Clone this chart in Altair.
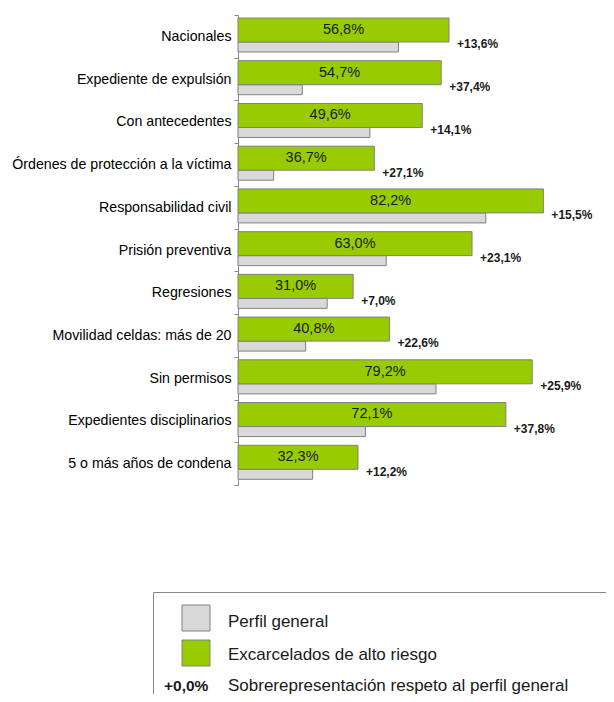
import altair as alt
import pandas as pd

categories = [
    "Nacionales",
    "Expediente de expulsión",
    "Con antecedentes",
    "Órdenes de protección a la víctima",
    "Responsabilidad civil",
    "Prisión preventiva",
    "Regresiones",
    "Movilidad celdas: más de 20",
    "Sin permisos",
    "Expedientes disciplinarios",
    "5 o más años de condena",
]
alto_riesgo = [56.8, 54.7, 49.6, 36.7, 82.2, 63.0, 31.0, 40.8, 79.2, 72.1, 32.3]
perfil_general = [43.2, 17.3, 35.5, 9.6, 66.7, 39.9, 24.0, 18.2, 53.3, 34.3, 20.1]
sobrerep = [13.6, 37.4, 14.1, 27.1, 15.5, 23.1, 7.0, 22.6, 25.9, 37.8, 12.2]

legend_labels = ["Perfil general", "Excarcelados de alto riesgo",
                 "Sobrerepresentación respeto al perfil general"]
legend_sample = "+0,0%"

FONT = "Liberation Sans"
GREEN = "#99cc00"
GRAY = "#d9d9d9"
EDGE = "#808080"


def fmt(v):
    return f"{v:.1f}".replace(".", ",") + "%"


df = pd.DataFrame({
    "cat": categories,
    "alto": alto_riesgo,
    "general": perfil_general,
    "sobre": sobrerep,
    "lab_alto": [fmt(v) for v in alto_riesgo],
    "lab_sobre": ["+" + fmt(v) for v in sobrerep],
})

xscale = alt.Scale(domain=[0, 100], range=[0, 371.5])
y_enc = alt.Y(
    "cat:N",
    sort=categories,
    scale=alt.Scale(domain=categories, range=[0, 470], paddingInner=0, paddingOuter=0),
    axis=alt.Axis(
        title=None, tickBand="extent", tickSize=4, tickColor="#888888",
        domainColor="#888888", labelFont=FONT, labelFontSize=14.2,
        labelColor="#000000", labelPadding=3, labelLimit=400, grid=False,
    ),
)

base = alt.Chart(df)

gray_bars = base.mark_bar(size=10, yOffset=10.64, color=GRAY, stroke=EDGE, strokeWidth=1).encode(
    x=alt.X("general:Q", scale=xscale, axis=None), y=y_enc)
green_bars = base.mark_bar(size=24, yOffset=-6.36, color=GREEN, stroke=EDGE, strokeWidth=1).encode(
    x=alt.X("alto:Q", scale=xscale, axis=None), y=y_enc)
inner_text = base.transform_calculate(mid="datum.alto / 2").mark_text(
    font=FONT, fontSize=14.5, color="#1a1a1a", align="center", baseline="middle", yOffset=-6.5
).encode(x=alt.X("mid:Q", scale=xscale, axis=None), y=y_enc, text="lab_alto:N")
sobre_text = base.mark_text(
    font=FONT, fontSize=12, fontWeight="bold", color="#1a1a1a", align="left",
    baseline="middle", dx=8, yOffset=8
).encode(x=alt.X("alto:Q", scale=xscale, axis=None), y=y_enc, text="lab_sobre:N")

one = pd.DataFrame({"k": [0]})
deco = alt.Chart(one)

box_top = deco.mark_rule(color="#888888", strokeWidth=1).encode(
    x=alt.value(-84.5), x2=alt.value(368), y=alt.value(577.5))
box_left = deco.mark_rule(color="#888888", strokeWidth=1).encode(
    x=alt.value(-84.5), y=alt.value(577.5), y2=alt.value(679))
sq_gray = deco.mark_rect(color=GRAY, stroke=EDGE, strokeWidth=1).encode(
    x=alt.value(-56), x2=alt.value(-28), y=alt.value(590), y2=alt.value(616))
sq_green = deco.mark_rect(color=GREEN, stroke=EDGE, strokeWidth=1).encode(
    x=alt.value(-56), x2=alt.value(-28), y=alt.value(625), y2=alt.value(651))
t1 = deco.mark_text(font=FONT, fontSize=17, color="#1a1a1a", align="left", baseline="middle",
                    text=legend_labels[0]).encode(x=alt.value(-10), y=alt.value(606.5))
t2 = deco.mark_text(font=FONT, fontSize=17, color="#1a1a1a", align="left", baseline="middle",
                    text=legend_labels[1]).encode(x=alt.value(-10), y=alt.value(640))
t3 = deco.mark_text(font=FONT, fontSize=17, color="#1a1a1a", align="left", baseline="middle",
                    text=legend_labels[2]).encode(x=alt.value(-10), y=alt.value(671))
t4 = deco.mark_text(font=FONT, fontSize=15.5, fontWeight="bold", color="#1a1a1a", align="left",
                    baseline="middle", text=legend_sample).encode(x=alt.value(-74), y=alt.value(671))

chart = alt.layer(
    gray_bars, green_bars, inner_text, sobre_text,
    box_top, box_left, sq_gray, sq_green, t1, t2, t3, t4,
).properties(
    width=368, height=679,
    padding={"left": 230, "top": 7, "right": 0, "bottom": 0},
    autosize=alt.AutoSizeParams(type="none"),
    background="white",
).configure_view(stroke=None)

chart.save("out.html", embed_options={"renderer": "svg", "actions": False})
